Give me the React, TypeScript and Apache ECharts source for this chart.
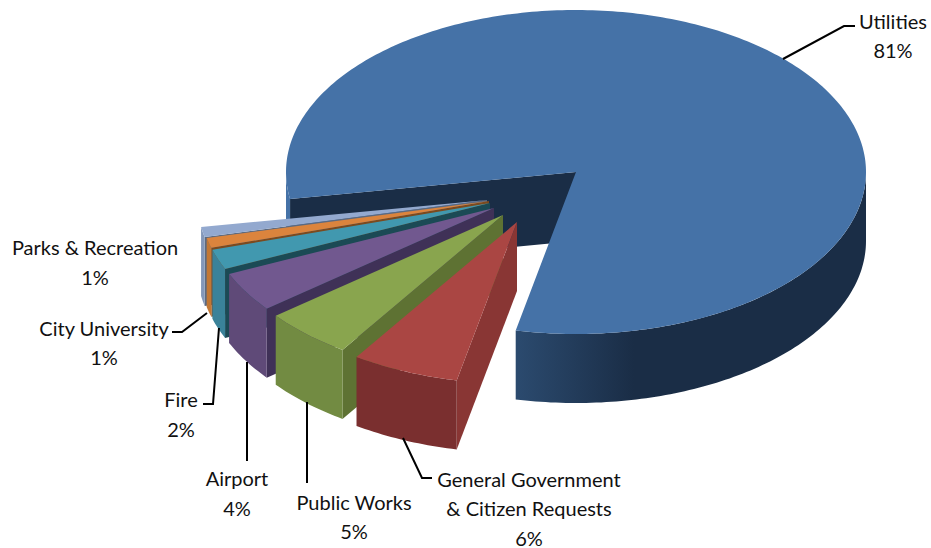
import React, { useEffect, useRef } from "react";
import * as echarts from "echarts";

// Share of the total per department, clockwise from Utilities.
const categories = [
  "Utilities",
  "General Government\n& Citizen Requests",
  "Public Works",
  "Airport",
  "Fire",
  "City University",
  "Parks & Recreation",
];
const shares = [81, 6, 5, 4, 2, 1, 1];

// Face colours per slice: top, outer wall, cut wall.
const topColors = ["#4572a7", "#aa4643", "#89a54e", "#71588f", "#4198af", "#db843d", "#93a9cf"];
const wallColors = ["#1a2d46", "#7a2f2f", "#728b42", "#5f4a78", "#3a8299", "#c27734", "#8397b9"];
const cutColors = ["#1a2d46", "#893634", "#5e7233", "#3f3157", "#1b4a55", "#7c4a1e", "#5c6a80"];

// Projected pie: ellipse centre, radii, extrusion depth and start angle.
const CX = 576;
const CY = 172;
const RX = 290;
const RY = 162;
const DEPTH = 69;
const START_DEG = 12; // degrees clockwise from straight down, measured on the ellipse

// How far each slice is pulled out of the pie, in pixels.
const explodeX = [0, -59, -73, -82, -86, -87, -89];
const explodeY = [0, 50, 43, 36, 31, 29, 28];

// Label anchors and leader lines.
const labelX = [893, 529, 354, 237, 181, 104, 95];
const labelY = [35.5, 508, 516.5, 493, 414, 342.5, 262];
const leaders: number[][][] = [
  [[783, 59], [844, 26], [855, 26]],
  [[403, 438], [422, 478], [432, 478]],
  [[307, 402], [307, 483]],
  [[247, 362], [247, 461]],
  [[219, 328], [213, 404], [203, 404]],
  [[207, 313], [182, 332], [172, 332]],
];

const total = shares.reduce((a, b) => a + b, 0);

// Start and end angle per slice, in degrees clockwise from down, Utilities wrapping round the back.
const spans: [number, number][] = (() => {
  const out: [number, number][] = [];
  let a = START_DEG;
  for (let i = 1; i < shares.length; i++) {
    const sweep = (shares[i] / total) * 360;
    out[i] = [a, a + sweep];
    a += sweep;
  }
  out[0] = [a, a + (shares[0] / total) * 360];
  return out;
})();

function rim(deg: number, ox: number, oy: number, dz = 0): number[] {
  const r = (deg * Math.PI) / 180;
  return [CX + ox - Math.sin(r) * RX, CY + oy + Math.cos(r) * RY + dz];
}

function arc(a0: number, a1: number, ox: number, oy: number, dz = 0): number[][] {
  const n = Math.max(2, Math.ceil(Math.abs(a1 - a0)));
  const pts: number[][] = [];
  for (let i = 0; i <= n; i++) pts.push(rim(a0 + ((a1 - a0) * i) / n, ox, oy, dz));
  return pts;
}

function polygon(points: number[][], fill: unknown) {
  return { type: "polygon", shape: { points }, style: { fill }, silent: true };
}

function renderSlice(_: unknown, api: any) {
  const i = api.value(0) as number;
  const [a0, a1] = spans[i];
  const ox = explodeX[i];
  const oy = explodeY[i];
  const apex = [CX + ox, CY + oy];
  const children: unknown[] = [];

  if (i === 0) {
    // Hole in the big slice: the cut wall seen through it, the shaded front and the sliver at the left.
    const corner = rim(a0, 0, 0);
    children.push(
      polygon([apex, corner, [corner[0], corner[1] + DEPTH], [apex[0], apex[1] + DEPTH]], cutColors[0])
    );
    children.push(
      polygon([...arc(a0, 90, 0, 0), ...arc(90, a0, 0, 0, DEPTH)], topColors[0])
    );
    const grad = new echarts.graphic.LinearGradient(
      CX - RX * 0.2,
      0,
      CX + RX * 0.2,
      0,
      [
        { offset: 0, color: "#2b4a6e" },
        { offset: 1, color: wallColors[0] },
      ],
      true
    );
    children.push(
      polygon([...arc(270, a1, 0, 0), ...arc(a1, 270, 0, 0, DEPTH)], grad)
    );
  } else {
    // Cut wall on the clockwise-start side, then the curved outer wall.
    const near = rim(a0, ox, oy);
    children.push(
      polygon([apex, near, [near[0], near[1] + DEPTH], [apex[0], apex[1] + DEPTH]], cutColors[i])
    );
    children.push(
      polygon([...arc(a0, a1, ox, oy), ...arc(a1, a0, ox, oy, DEPTH)], wallColors[i])
    );
  }
  children.push(polygon([apex, ...arc(a0, a1, ox, oy)], topColors[i]));
  return { type: "group", children };
}

export default function App() {
  const ref = useRef<HTMLDivElement>(null);

  useEffect(() => {
    const chart = echarts.init(ref.current!, undefined, { renderer: "svg" });

    // Painter's order: Utilities at the back, then the pulled-out slices from far to near.
    const drawOrder = [0, 6, 5, 4, 3, 2, 1];

    chart.setOption({
      animation: false,
      backgroundColor: "#ffffff",
      series: [
        {
          type: "custom",
          coordinateSystem: "none",
          renderItem: renderSlice,
          silent: true,
          data: drawOrder.map((i) => ({ name: categories[i], value: [i, shares[i]] })),
        },
      ],
      graphic: [
        ...leaders.map((pts) => ({
          type: "polyline",
          silent: true,
          z: 10,
          shape: { points: pts },
          style: { stroke: "#000000", lineWidth: 2, fill: "none" },
        })),
        ...categories.map((name, i) => ({
          type: "text",
          silent: true,
          z: 10,
          x: labelX[i],
          y: labelY[i],
          style: {
            text: `${name}\n${shares[i]}%`,
            font: '20px Lato, "Open Sans", sans-serif',
            lineHeight: 29.5,
            fill: "#111111",
            align: "center",
            verticalAlign: "middle",
          },
        })),
      ],
    });

    return () => chart.dispose();
  }, []);

  return (
    <div
      ref={ref}
      style={{ position: "absolute", left: 0, top: 0, width: 931, height: 548 }}
    />
  );
}
